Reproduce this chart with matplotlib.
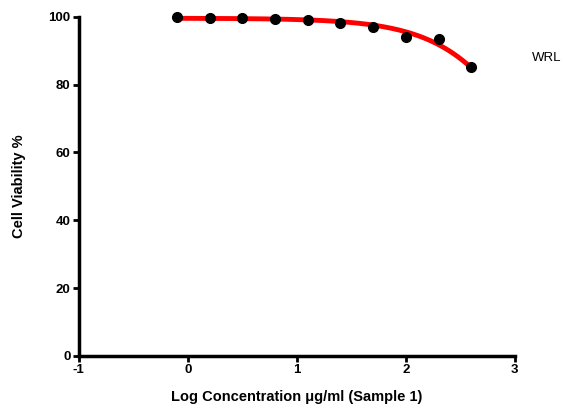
import numpy as np
import matplotlib.pyplot as plt

plt.rcParams['font.family'] = ['Liberation Sans', 'DejaVu Sans']
plt.rcParams['axes.unicode_minus'] = False

# data
log_conc = [-0.1, 0.2, 0.5, 0.8, 1.1, 1.4, 1.7, 2.0, 2.3, 2.6]
viability = [100.0, 99.8, 99.8, 99.4, 99.1, 98.3, 97.1, 94.0, 93.6, 85.1]

# dose-response fit parameters (bottom fixed at 0)
top = 99.6
log_ic50 = 3.35
hill = 1.02

xs = np.linspace(log_conc[0], log_conc[-1], 200)
fit = top / (1 + 10 ** ((xs - log_ic50) * hill))

fig = plt.figure(figsize=(5.67, 4.11), dpi=100)
ax = fig.add_axes([0.139, 0.134, 0.769, 0.825])

ax.plot(xs, fit, color='#ff0000', lw=3.5, zorder=2, clip_on=False)
ax.plot(log_conc, viability, 'o', color='black', ms=7, zorder=3, clip_on=False)

ax.set_xlim(-1, 3)
ax.set_ylim(0, 100)
ax.set_xticks([-1, 0, 1, 2, 3])
ax.set_yticks([0, 20, 40, 60, 80, 100])

for s in ['top', 'right']:
    ax.spines[s].set_visible(False)
for s in ['left', 'bottom']:
    ax.spines[s].set_linewidth(2.5)

ax.tick_params(direction='out', length=4, width=2, labelsize=9.5, pad=2)
for lbl in ax.get_xticklabels() + ax.get_yticklabels():
    lbl.set_fontweight('bold')

ax.set_xlabel('Log Concentration \u03bcg/ml (Sample 1)', fontsize=10.5, fontweight='bold', labelpad=10)
ax.set_ylabel('Cell Viability %', fontsize=10.5, fontweight='bold')
ax.yaxis.set_label_coords(-0.12, 0.5)

fig.text(0.965, 0.86, 'WRL', fontsize=9.5, ha='center', va='center')

fig.savefig('out.png', dpi=100)
